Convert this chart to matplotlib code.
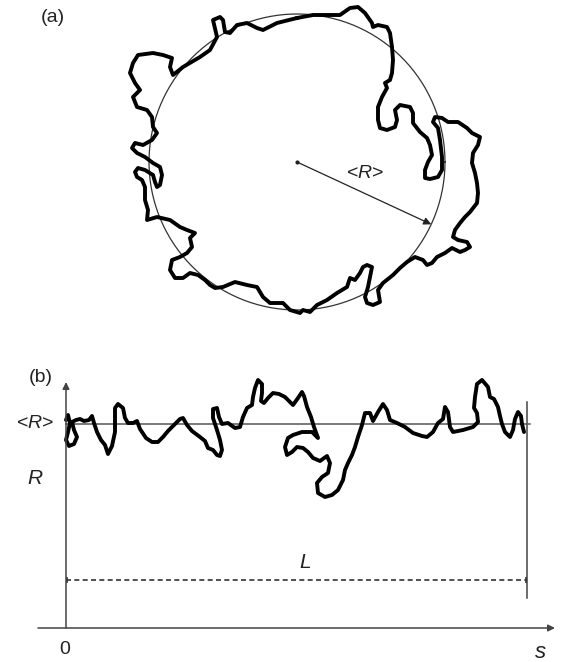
import numpy as np
import matplotlib
matplotlib.use("Agg")
import matplotlib.pyplot as plt

plt.rcParams['font.family'] = ['Liberation Sans', 'DejaVu Sans']
plt.rcParams['mathtext.fontset'] = 'custom'
plt.rcParams['mathtext.it'] = 'Liberation Sans:italic'
plt.rcParams['mathtext.rm'] = 'Liberation Sans'

# ---------------- Panel (a): rough contour around the mean circle ----------------
contour_u = [0, 16, 30, 43, 53, 61, 68, 75, 76, 81, 90, 93, 95, 96, 95, 93, 88, 90, 85, 81,
             81, 83, 90, 98, 100, 98, 103, 113, 116, 116, 123, 130, 133, 135, 131, 128, 128, 133, 141, 145,
             145, 143, 141, 136, 138, 145, 151, 161, 170, 175, 183, 181, 176, 175, 178, 180, 181, 180, 173, 168,
             163, 158, 156, 161, 170, 173, 168, 163, 155, 148, 140, 135, 130, 126, 118, 110, 103, 96, 86, 81,
             83, 76, 70, 68, 71, 73, 75, 70, 66, 63, 58, 53, 50, 40, 30, 20, 13, 6, 3, -7,
             -14, -27, -34, -40, -50, -62, -74, -82, -87, -92, -99, -107, -114, -122, -127, -125, -117, -110, -105, -107,
             -102, -110, -117, -127, -140, -150, -149, -152, -152, -155, -160, -162, -159, -152, -144, -142, -140, -137, -135, -137,
             -144, -152, -160, -165, -162, -154, -145, -140, -144, -145, -150, -160, -164, -157, -162, -167, -164, -159, -144, -134,
             -125, -127, -124, -114, -97, -87, -80, -84, -77, -74, -72, -67, -60, -50, -40, -34, -20, 0]
contour_v = [144, 147, 147, 147, 154, 155, 149, 139, 135, 137, 135, 129, 115, 102, 89, 82, 79, 74, 65, 55,
             42, 34, 32, 35, 42, 52, 57, 55, 49, 39, 30, 24, 17, 7, 0, -8, -16, -17, -15, -8,
             5, 22, 34, 40, 45, 44, 40, 40, 34, 29, 25, 17, 9, -1, -11, -21, -31, -41, -50, -55,
             -61, -68, -75, -78, -80, -85, -88, -90, -86, -91, -95, -101, -103, -98, -95, -100, -106, -113, -121, -128,
             -140, -143, -141, -135, -125, -115, -105, -103, -105, -111, -118, -116, -125, -131, -138, -143, -150, -148, -151, -148,
             -141, -141, -135, -125, -123, -120, -125, -126, -123, -118, -113, -111, -116, -116, -108, -98, -95, -91, -85, -76,
             -71, -68, -65, -58, -55, -58, -48, -38, -25, -18, -15, -10, -6, -8, -13, -20, -25, -23, -13, -5,
             -1, 5, 9, 14, 19, 17, 22, 29, 35, 45, 52, 55, 65, 72, 79, 89, 99, 107, 109, 107,
             104, 95, 87, 95, 105, 112, 125, 142, 145, 142, 130, 129, 137, 139, 134, 132, 139, 144]
mean_radius_a = 148
radius_angle_deg = -24.9

# ---------------- Panel (b): R(s) along the contour ----------------
s_vals = [0, 2, 4, 2, 0, 3, 8, 11, 8, 6, 10, 14, 18, 23, 26, 28, 31, 35, 39, 42,
          46, 49, 49, 49, 52, 57, 59, 62, 67, 71, 74, 80, 86, 92, 97, 102, 108, 114, 117, 121,
          126, 134, 139, 142, 147, 151, 154, 156, 154, 151, 147, 147, 151, 153, 156, 162, 169, 174, 177, 181,
          186, 187, 189, 192, 196, 196, 195, 198, 202, 207, 213, 219, 224, 227, 232, 236, 238, 241, 245, 248,
          252, 246, 236, 227, 222, 219, 221, 226, 231, 237, 242, 247, 254, 261, 264, 262, 256, 251, 252, 259,
          266, 272, 277, 279, 282, 286, 289, 292, 296, 299, 304, 307, 312, 317, 321, 324, 331, 339, 347, 356,
          361, 367, 372, 377, 379, 382, 384, 387, 397, 407, 412, 411, 408, 409, 411, 416, 422, 424, 428, 432,
          434, 436, 439, 444, 447, 449, 452, 455, 456, 458]
R_vals = [208, 213, 205, 196, 188, 182, 184, 191, 198, 206, 208, 209, 207, 208, 212, 205, 196, 188, 183, 174,
          182, 196, 210, 220, 224, 220, 210, 205, 205, 207, 199, 190, 186, 186, 191, 197, 203, 209, 210, 203,
          197, 191, 187, 180, 178, 173, 172, 178, 188, 198, 210, 219, 220, 211, 204, 205, 200, 201, 211, 220,
          223, 231, 240, 248, 244, 235, 227, 225, 230, 235, 234, 231, 226, 223, 230, 236, 232, 221, 211, 201,
          190, 196, 196, 193, 190, 181, 173, 176, 181, 180, 176, 170, 167, 172, 165, 155, 151, 145, 135, 131,
          133, 138, 148, 158, 165, 173, 181, 191, 203, 215, 215, 207, 216, 224, 218, 208, 205, 201, 195, 192,
          191, 196, 205, 209, 221, 216, 201, 196, 198, 201, 206, 215, 220, 231, 244, 248, 241, 231, 229, 221,
          212, 204, 196, 191, 198, 209, 216, 212, 204, 196]
mean_R = 204
L_len = 461

fig = plt.figure(figsize=(5.63, 6.62), dpi=100)

# ---- panel (a) axes ----
axa = fig.add_axes([0, 0, 1, 1])
axa.set_xlim(-297, 266)
axa.set_ylim(-500, 162)
axa.axis('off')
axa.patch.set_alpha(0)

th = np.linspace(0, 2 * np.pi, 400)
axa.plot(mean_radius_a * np.cos(th), mean_radius_a * np.sin(th), color='#333333', lw=0.9)
axa.plot(contour_u, contour_v, color='black', lw=2.8, solid_joinstyle='round', solid_capstyle='round')
ang = np.deg2rad(radius_angle_deg)
axa.annotate('', xy=(mean_radius_a * np.cos(ang), mean_radius_a * np.sin(ang)), xytext=(0, 0),
             arrowprops=dict(arrowstyle='-|>', color='#222222', lw=0.9, mutation_scale=11,
                             shrinkA=0, shrinkB=0))
axa.plot([0], [0], 'o', color='#222222', ms=2)
axa.text(68, -11, '<$\\mathit{R}$>', fontsize=14, ha='center', va='center', color='#222222')
axa.text(-244, 144, '(a)', fontsize=14, ha='center', va='center', color='#222222')

# ---- panel (b) axes ----
axb = fig.add_axes([0, 0, 1, 1])
axb.set_xlim(-66, 497)
axb.set_ylim(-34, 628)
axb.axis('off')
axb.patch.set_alpha(0)

axcol = '#444444'
# s axis
axb.annotate('', xy=(489, 0), xytext=(-28, 0),
             arrowprops=dict(arrowstyle='-|>', color=axcol, lw=1.1, mutation_scale=10, shrinkA=0, shrinkB=0))
# R axis
axb.annotate('', xy=(0, 246), xytext=(0, 0),
             arrowprops=dict(arrowstyle='-|>', color=axcol, lw=1.1, mutation_scale=10, shrinkA=0, shrinkB=0))
# end line at s = L
axb.plot([L_len, L_len], [30, 226], color=axcol, lw=1.1)
# mean R line
axb.plot([0, L_len + 3], [mean_R, mean_R], color='#555555', lw=1.1)
# L dashed
axb.plot([0, L_len], [48, 48], color='#333333', lw=1.2, ls=(0, (3, 2)))
axb.plot([1, L_len - 1], [48, 48], ls='none', marker='|', ms=5, mew=1.2, color='#333333')
# R(s) curve
axb.plot(s_vals, R_vals, color='black', lw=2.8, solid_joinstyle='round', solid_capstyle='round')

axb.text(-25, 250, '(b)', fontsize=14, ha='center', va='center', color='#222222')
axb.text(-31, mean_R, '<$\\mathit{R}$>', fontsize=14, ha='center', va='center', color='#222222')
axb.text(-31, 150, '$\\mathit{R}$', fontsize=15, ha='center', va='center', color='#222222')
axb.text(239, 65, '$\\mathit{L}$', fontsize=15, ha='center', va='center', color='#222222')
axb.text(-1, -22, '0', fontsize=14, ha='center', va='center', color='#222222')
axb.text(474, -24, '$\\mathit{s}$', fontsize=16, ha='center', va='center', color='#222222')

fig.savefig('out.png', dpi=100)
